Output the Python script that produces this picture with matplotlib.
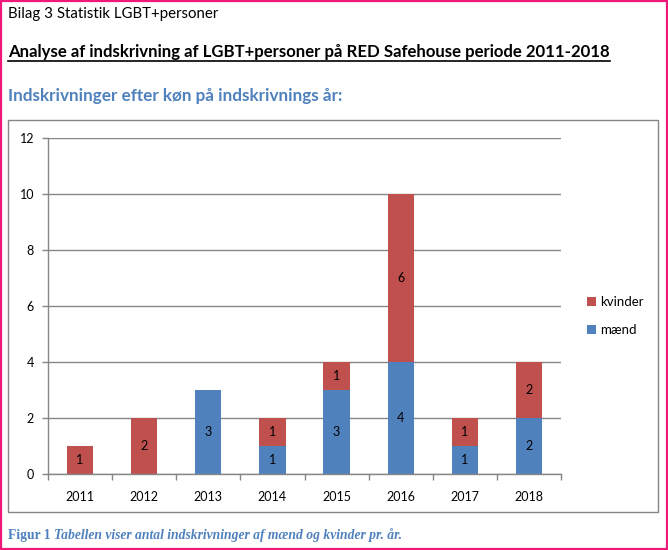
import matplotlib
matplotlib.use("Agg")
import matplotlib.pyplot as plt
from matplotlib.patches import Rectangle
from matplotlib.lines import Line2D
import numpy as np

# data
years = ["2011", "2012", "2013", "2014", "2015", "2016", "2017", "2018"]
maend = [0, 0, 3, 1, 3, 4, 1, 2]
kvinder = [1, 2, 0, 1, 1, 6, 1, 2]

RED = "#C0504D"
BLUE = "#4F81BD"
GRAY = "#868686"
PINK = "#F0197A"
W, H = 668, 550

plt.rcParams["font.family"] = ["Lato", "DejaVu Sans"]


def fx(px):
    return px / W


def fy(py):
    return 1 - py / H


fig = plt.figure(figsize=(6.68, 5.5), dpi=100)

# page border and chart box
fig.patches.append(Rectangle((0.001, 0.002), 0.997, 0.996, transform=fig.transFigure,
                             fill=False, edgecolor=PINK, linewidth=1.6))
fig.patches.append(Rectangle((fx(8), fy(512)), fx(650), 392 / H, transform=fig.transFigure,
                             fill=False, edgecolor=GRAY, linewidth=1.0))

# header texts
fig.text(fx(8), fy(14), "Bilag 3 Statistik LGBT+personer", fontsize=10.8,
         va="center", ha="left")
t = fig.text(fx(8), fy(52), "Analyse af indskrivning af LGBT+personer på RED Safehouse periode 2011-2018",
             fontsize=12.05, fontweight="bold", va="center", ha="left")
fig.text(fx(8), fy(96), "Indskrivninger efter køn på indskrivnings år:", fontsize=12.35,
         fontweight="bold", color=BLUE, va="center", ha="left")

# underline the title
fig.canvas.draw()
r = fig.canvas.get_renderer()
bb = t.get_window_extent(r)
fig.lines.append(Line2D([bb.x0 / W, bb.x1 / W], [fy(61), fy(61)], transform=fig.transFigure,
                        color="black", linewidth=1.2))

# caption
c1 = fig.text(fx(8), fy(535), "Figur 1 ", fontsize=9.8, fontweight="bold", color=BLUE,
              family="Liberation Serif", va="center", ha="left")
fig.canvas.draw()
bb = c1.get_window_extent(fig.canvas.get_renderer())
fig.text(bb.x1 / W, fy(535), "Tabellen viser antal indskrivninger af mænd og kvinder pr. år.",
         fontsize=9.8, fontweight="bold", style="italic", color=BLUE,
         family="Liberation Serif", va="center", ha="left")

# chart
ax = fig.add_axes([fx(48), fy(474), 513 / W, 336.3 / H])
x = np.arange(len(years))
bw = 0.41
b1 = ax.bar(x, maend, bw, color=BLUE, label="mænd", zorder=3)
b2 = ax.bar(x, kvinder, bw, bottom=maend, color=RED, label="kvinder", zorder=3)

for i in range(len(years)):
    if maend[i]:
        ax.text(x[i], maend[i] / 2, str(maend[i]), ha="center", va="center", fontsize=9, zorder=4)
    if kvinder[i]:
        ax.text(x[i], maend[i] + kvinder[i] / 2, str(kvinder[i]), ha="center", va="center",
                fontsize=9, zorder=4)

ax.set_xlim(-0.5, len(years) - 0.5)
ax.set_ylim(0, 12)
ax.set_yticks(range(0, 13, 2))
ax.yaxis.grid(True, color=GRAY, linewidth=1.0, zorder=0)
ax.set_xticks(x)
ax.set_xticklabels(years)
ax.set_xticks(np.arange(-0.5, len(years)), minor=True)
ax.tick_params(axis="x", which="major", length=0, pad=12, labelsize=9)
ax.tick_params(axis="x", which="minor", length=4, color=GRAY, width=1.0)
ax.tick_params(axis="y", length=4, color=GRAY, width=1.0, labelsize=9, pad=6)
for s in ["top", "right"]:
    ax.spines[s].set_visible(False)
for s in ["left", "bottom"]:
    ax.spines[s].set_color(GRAY)
    ax.spines[s].set_linewidth(1.0)
    ax.spines[s].set_zorder(5)

handles = [b2, b1]
ax.legend(handles, ["kvinder", "mænd"], loc="center left", bbox_to_anchor=(527 / 513, 0.47),
          frameon=False, fontsize=9.5, handlelength=0.7, handleheight=0.7, handletextpad=0.3,
          labelspacing=1.2)

fig.savefig("out.png", dpi=100)
